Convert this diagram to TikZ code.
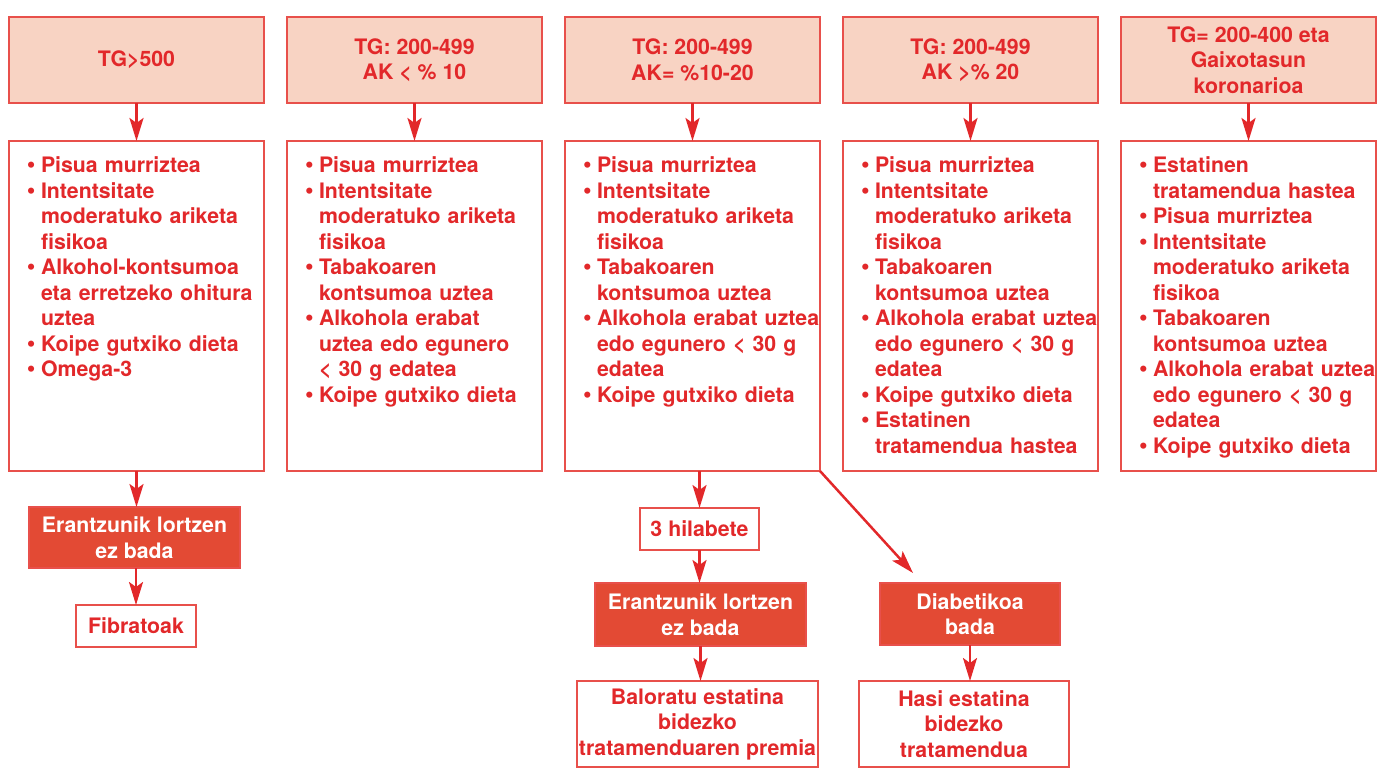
\documentclass[tikz,border=0pt]{standalone}
\usepackage{fontspec}
\setmainfont{TeX Gyre Heros}
\usetikzlibrary{arrows.meta,calc}
\definecolor{txtred}{HTML}{E2282A}
\definecolor{brdred}{HTML}{E8504B}
\definecolor{peach}{HTML}{F8D3C3}
\definecolor{boxred}{HTML}{E34A34}
\newcommand\itm{\makebox[14pt][l]{\raisebox{0.2pt}{\scalebox{1.15}{•}}}}
\newcommand\cnt{\hspace*{14pt}}
\begin{document}
\begin{tikzpicture}[x=1pt,y=-1pt,
  every node/.style={inner sep=0pt,outer sep=0pt,font={\fontsize{21.3}{25.5}\selectfont\bfseries}},
  headbox/.style={draw=brdred,line width=1.8pt,fill=peach,text=txtred,align=center,minimum width=255pt,minimum height=86pt},
  listbox/.style={draw=brdred,line width=1.8pt,fill=white,minimum width=255pt,minimum height=330pt},
  listtext/.style={anchor=base west,text=txtred,text width=262pt,align=left},
  redbox/.style={draw=brdred,line width=1.8pt,fill=boxred,text=white,align=center},
  whitebox/.style={draw=brdred,line width=1.8pt,fill=white,text=txtred,align=center},
  conn/.style={draw=txtred,line width=2.5pt,-{Stealth[length=23pt,width=14pt,inset=5pt]}}]
\useasboundingbox (0,0) rectangle (1381,775);
% head boxes
\node[headbox] (h1) at (136.5,60) {TG>500};
\node[headbox] (h2) at (414.5,60) {TG: 200-499\\AK < \% 10};
\node[headbox] (h3) at (692.5,60) {TG: 200-499\\AK= \%10-20};
\node[headbox] (h4) at (970.5,60) {TG: 200-499\\AK >\% 20};
\node[headbox] (h5) at (1248.5,60) {TG= 200-400 eta\\Gaixotasun\\koronarioa};
% list boxes
\foreach \i/\x in {1/136.5,2/414.5,3/692.5,4/970.5,5/1248.5}{
  \node[listbox] (l\i) at (\x,306) {};
}
\node[listtext] (t1) at ($(l1.north west)+(18,32)$) {\itm Pisua murriztea\\
\itm Intentsitate\\ \cnt moderatuko ariketa\\ \cnt fisikoa\\
\itm Alkohol-kontsumoa\\ \cnt eta erretzeko ohitura\\ \cnt uztea\\
\itm Koipe gutxiko dieta\\
\itm Omega-3};
\node[listtext] (t2) at ($(l2.north west)+(18,32)$) {\itm Pisua murriztea\\
\itm Intentsitate\\ \cnt moderatuko ariketa\\ \cnt fisikoa\\
\itm Tabakoaren\\ \cnt kontsumoa uztea\\
\itm Alkohola erabat\\ \cnt uztea edo egunero\\ \cnt < 30 g edatea\\
\itm Koipe gutxiko dieta};
\node[listtext] (t3) at ($(l3.north west)+(18,32)$) {\itm Pisua murriztea\\
\itm Intentsitate\\ \cnt moderatuko ariketa\\ \cnt fisikoa\\
\itm Tabakoaren\\ \cnt kontsumoa uztea\\
\itm Alkohola erabat uztea\\ \cnt edo egunero < 30 g\\ \cnt edatea\\
\itm Koipe gutxiko dieta};
\node[listtext] (t4) at ($(l4.north west)+(18,32)$) {\itm Pisua murriztea\\
\itm Intentsitate\\ \cnt moderatuko ariketa\\ \cnt fisikoa\\
\itm Tabakoaren\\ \cnt kontsumoa uztea\\
\itm Alkohola erabat uztea\\ \cnt edo egunero < 30 g\\ \cnt edatea\\
\itm Koipe gutxiko dieta\\
\itm Estatinen\\ \cnt tratamendua hastea};
\node[listtext] (t5) at ($(l5.north west)+(18,32)$) {\itm Estatinen\\ \cnt tratamendua hastea\\
\itm Pisua murriztea\\
\itm Intentsitate\\ \cnt moderatuko ariketa\\ \cnt fisikoa\\
\itm Tabakoaren\\ \cnt kontsumoa uztea\\
\itm Alkohola erabat uztea\\ \cnt edo egunero < 30 g\\ \cnt edatea\\
\itm Koipe gutxiko dieta};
% lower boxes
\node[redbox,minimum width=211pt,minimum height=61pt] (r1) at (134.5,537.5) {Erantzunik lortzen\\ez bada};
\node[whitebox,minimum width=120pt,minimum height=42pt] (fib) at (136,626) {Fibratoak};
\node[whitebox,minimum width=119pt,minimum height=42pt] (hil) at (699.5,529) {3 hilabete};
\node[redbox,minimum width=211pt,minimum height=63pt] (r2) at (700.5,614.5) {Erantzunik lortzen\\ez bada};
\node[whitebox,minimum width=241pt,minimum height=86pt] (bal) at (697.5,724) {Baloratu estatina\\bidezko\\tratamenduaren premia};
\node[redbox,minimum width=180pt,minimum height=62pt] (diab) at (970,614) {Diabetikoa\\bada};
\node[whitebox,minimum width=210pt,minimum height=86pt] (hasi) at (964,724) {Hasi estatina\\bidezko\\tratamendua};
\coordinate (dend) at (913,573);
% connectors
\foreach \i in {1,...,5}{ \draw[conn] (h\i.south) -- (l\i.north); }
\draw[conn] (l1.south) -- (l1.south |- r1.north);
\draw[conn] (fib.north |- r1.south) -- (fib.north);
\draw[conn] (hil.north |- l3.south) -- (hil.north);
\draw[conn] (hil.south) -- (hil.south |- r2.north);
\draw[conn] (r2.south) -- (r2.south |- bal.north);
\draw[conn] (l3.south east) -- (dend);
\draw[conn] (diab.south) -- (diab.south |- hasi.north);
\end{tikzpicture}
\end{document}
